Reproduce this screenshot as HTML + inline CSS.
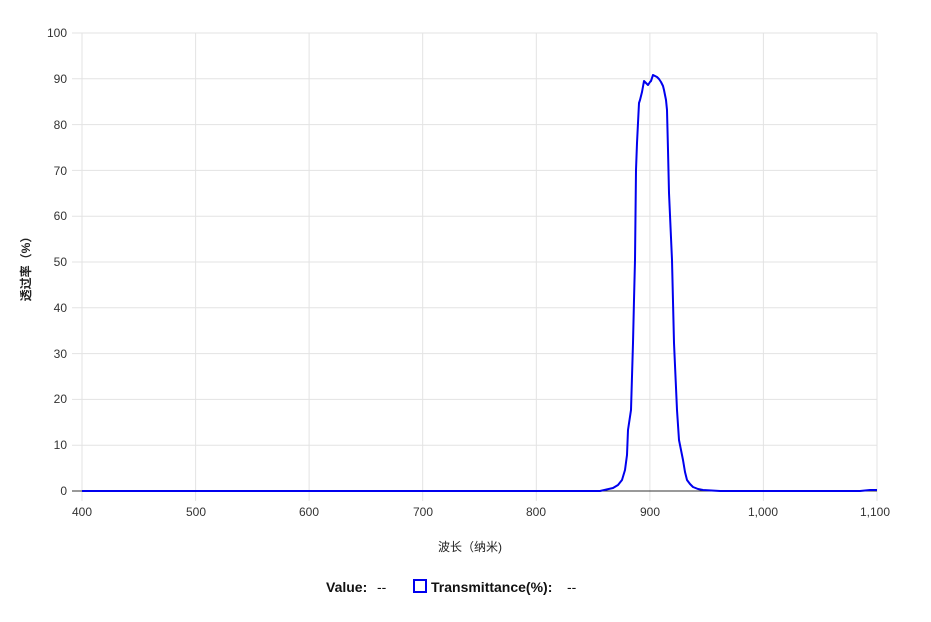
<!DOCTYPE html>
<html><head><meta charset="utf-8"><style>
body{margin:0;background:#fff;}
svg text{font-family:"Liberation Sans","Noto Sans CJK SC",sans-serif;}
</style></head><body>
<svg width="931" height="617" viewBox="0 0 931 617" xmlns="http://www.w3.org/2000/svg">
<g stroke="#e3e3e3" stroke-width="1">
<line x1="72" y1="33" x2="877" y2="33"/>
<line x1="72" y1="78.8" x2="877" y2="78.8"/>
<line x1="72" y1="124.6" x2="877" y2="124.6"/>
<line x1="72" y1="170.4" x2="877" y2="170.4"/>
<line x1="72" y1="216.2" x2="877" y2="216.2"/>
<line x1="72" y1="262" x2="877" y2="262"/>
<line x1="72" y1="307.8" x2="877" y2="307.8"/>
<line x1="72" y1="353.6" x2="877" y2="353.6"/>
<line x1="72" y1="399.4" x2="877" y2="399.4"/>
<line x1="72" y1="445.2" x2="877" y2="445.2"/>
<line x1="82" y1="33" x2="82" y2="501"/>
<line x1="195.6" y1="33" x2="195.6" y2="501"/>
<line x1="309.1" y1="33" x2="309.1" y2="501"/>
<line x1="422.7" y1="33" x2="422.7" y2="501"/>
<line x1="536.3" y1="33" x2="536.3" y2="501"/>
<line x1="649.9" y1="33" x2="649.9" y2="501"/>
<line x1="763.4" y1="33" x2="763.4" y2="501"/>
<line x1="877" y1="33" x2="877" y2="501"/>
</g>
<line x1="72" y1="491" x2="877" y2="491" stroke="#333" stroke-width="1"/>
<g font-size="12" fill="#333" text-anchor="end">
<text x="67" y="37">100</text><text x="67" y="83">90</text><text x="67" y="129">80</text>
<text x="67" y="175">70</text><text x="67" y="220">60</text><text x="67" y="266">50</text>
<text x="67" y="312">40</text><text x="67" y="358">30</text><text x="67" y="403">20</text>
<text x="67" y="449">10</text><text x="67" y="495">0</text>
</g>
<g font-size="12" fill="#333" text-anchor="middle">
<text x="82" y="516">400</text><text x="196" y="516">500</text><text x="309" y="516">600</text>
<text x="423" y="516">700</text><text x="536" y="516">800</text><text x="650" y="516">900</text>
<text x="763" y="516">1,000</text><text x="875" y="516">1,100</text>
</g>
<text x="470" y="551" font-size="12" fill="#222" text-anchor="middle">波长（纳米)</text>
<text transform="translate(30,266) rotate(-90)" font-size="12" fill="#222" text-anchor="middle" font-weight="bold">透过率（%）</text>
<polyline fill="none" stroke="#0000ee" stroke-width="2" stroke-linejoin="round" points="82,491 600,491 613,488 618,485 622,480 625,470 627,455 628,430 631,410 633,343 634,300 635,260 636,170 637,143 639,103 640,100 642,92 644,81 646,83 648,85 650,82 651,81 653,75 655,76 657,77 659,79 661,82 663,86 664,90 666,100 667,110 668,150 669,193 672,260 674,343 677,410 679,440 681,450 683,460 685,472 687,480 690,484 693,487 698,489 703,490 720,491 760,491 800,491 860,491 870,490 877,490"/>
<text x="326" y="592" font-size="14" font-weight="bold" fill="#111">Value:</text>
<text x="377" y="592" font-size="14" fill="#111">--</text>
<rect x="414" y="580" width="12" height="12" fill="none" stroke="#0000ee" stroke-width="2"/>
<text x="431" y="592" font-size="14" font-weight="bold" fill="#111">Transmittance(%):</text>
<text x="567" y="592" font-size="14" fill="#111">--</text>
</svg>
</body></html>
